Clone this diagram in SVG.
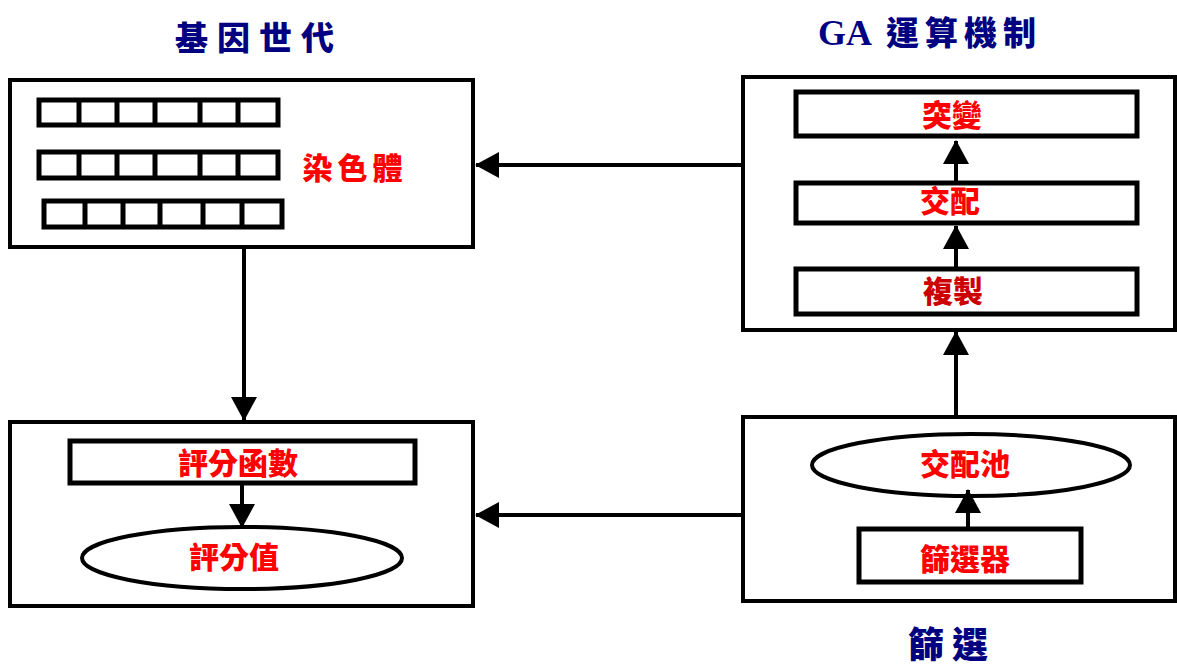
<svg xmlns="http://www.w3.org/2000/svg" width="1177" height="666" viewBox="0 0 1177 666">
  <style>
    .box { fill: #ffffff; stroke: #000000; stroke-width: 4; }
    .inner { fill: #ffffff; stroke: #000000; stroke-width: 5; }
    .cell { fill: #ffffff; stroke: #000000; stroke-width: 5; }
    .oval { fill: #ffffff; stroke: #000000; stroke-width: 4; }
    .title { font-family: "Noto Sans CJK TC", "Noto Sans CJK SC", sans-serif; font-weight: 900; fill: #000080; text-anchor: middle; }
    .latin { font-family: "Liberation Serif", "Noto Sans CJK TC", serif; font-weight: 700; letter-spacing: 0; }
    .label { font-family: "Noto Sans CJK TC", "Noto Sans CJK SC", sans-serif; font-weight: 900; fill: #ff0000; text-anchor: middle; dominant-baseline: central; font-size: 30px; }
    .edge { fill: none; stroke: #000000; stroke-width: 4; marker-end: url(#arrow); }
  </style>
  <defs>
    <marker id="arrow" markerUnits="userSpaceOnUse" markerWidth="24" markerHeight="26" refX="23" refY="13" orient="auto">
      <path d="M0,0 L24,13 L0,26 Z" fill="#000000"/>
    </marker>
  </defs>
  <rect width="1177" height="666" fill="#ffffff"/>

  <!-- section titles -->
  <text class="title" x="259" y="50" font-size="33" letter-spacing="9">基因世代</text>
  <text class="title" x="818" y="45" font-size="33" style="text-anchor:start"><tspan class="latin" font-size="36">GA</tspan><tspan dx="14" letter-spacing="6">運算機制</tspan></text>
  <text class="title" x="952" y="658" font-size="36" letter-spacing="8">篩選</text>

  <!-- generation: chromosome population -->
  <g id="generation">
    <rect class="box" x="10" y="80" width="463" height="167"/>
    <g id="chromosome-1">
      <rect class="cell" x="39" y="100" width="239" height="25"/>
      <path class="cell" d="M79,100 V125 M117,100 V125 M155,100 V125 M200,100 V125 M238,100 V125"/>
    </g>
    <g id="chromosome-2">
      <rect class="cell" x="39" y="152" width="239" height="26"/>
      <path class="cell" d="M79,152 V178 M117,152 V178 M155,152 V178 M200,152 V178 M238,152 V178"/>
    </g>
    <g id="chromosome-3">
      <rect class="cell" x="44" y="201" width="238" height="26"/>
      <path class="cell" d="M85,201 V227 M123,201 V227 M160,201 V227 M203,201 V227 M242,201 V227"/>
    </g>
    <text class="label" x="355" y="166" font-size="28" letter-spacing="5">染色體</text>
  </g>

  <!-- evaluation -->
  <g id="evaluation">
    <rect class="box" x="10" y="422" width="463" height="184"/>
    <g id="fitness-function">
      <rect class="inner" x="70" y="441" width="345" height="42"/>
      <text class="label" x="238" y="461">評分函數</text>
    </g>
    <g id="fitness-value">
      <ellipse class="oval" cx="242" cy="558" rx="160" ry="31"/>
      <text class="label" x="234" y="555">評分值</text>
    </g>
  </g>

  <!-- GA operators -->
  <g id="ga-operators">
    <rect class="box" x="743" y="77" width="432" height="253"/>
    <g id="mutation">
      <rect class="inner" x="796" y="92" width="341" height="44"/>
      <text class="label" x="952" y="113">突變</text>
    </g>
    <g id="crossover">
      <rect class="inner" x="796" y="183" width="341" height="40"/>
      <text class="label" x="950" y="199">交配</text>
    </g>
    <g id="reproduction">
      <rect class="inner" x="796" y="269" width="341" height="45"/>
      <text class="label" x="953" y="289" style="fill:#cc0000">複製</text>
    </g>
  </g>

  <!-- selection -->
  <g id="selection">
    <rect class="box" x="743" y="417" width="432" height="184"/>
    <g id="mating-pool">
      <ellipse class="oval" cx="971" cy="465" rx="159" ry="31"/>
      <text class="label" x="965" y="462">交配池</text>
    </g>
    <g id="selector">
      <rect class="inner" x="859" y="529" width="222" height="53"/>
      <text class="label" x="965" y="557">篩選器</text>
    </g>
  </g>

  <!-- connectors -->
  <g id="connectors">
    <path class="edge" d="M741,165 H476"/>
    <path class="edge" d="M741,515 H476"/>
    <path class="edge" d="M244,248 V420"/>
    <path class="edge" d="M956,415 V332"/>
    <path class="edge" d="M956,182 V141"/>
    <path class="edge" d="M956,267 V226"/>
    <path class="edge" d="M968,528 V490"/>
    <path class="edge" d="M242,485 V527"/>
  </g>
</svg>
